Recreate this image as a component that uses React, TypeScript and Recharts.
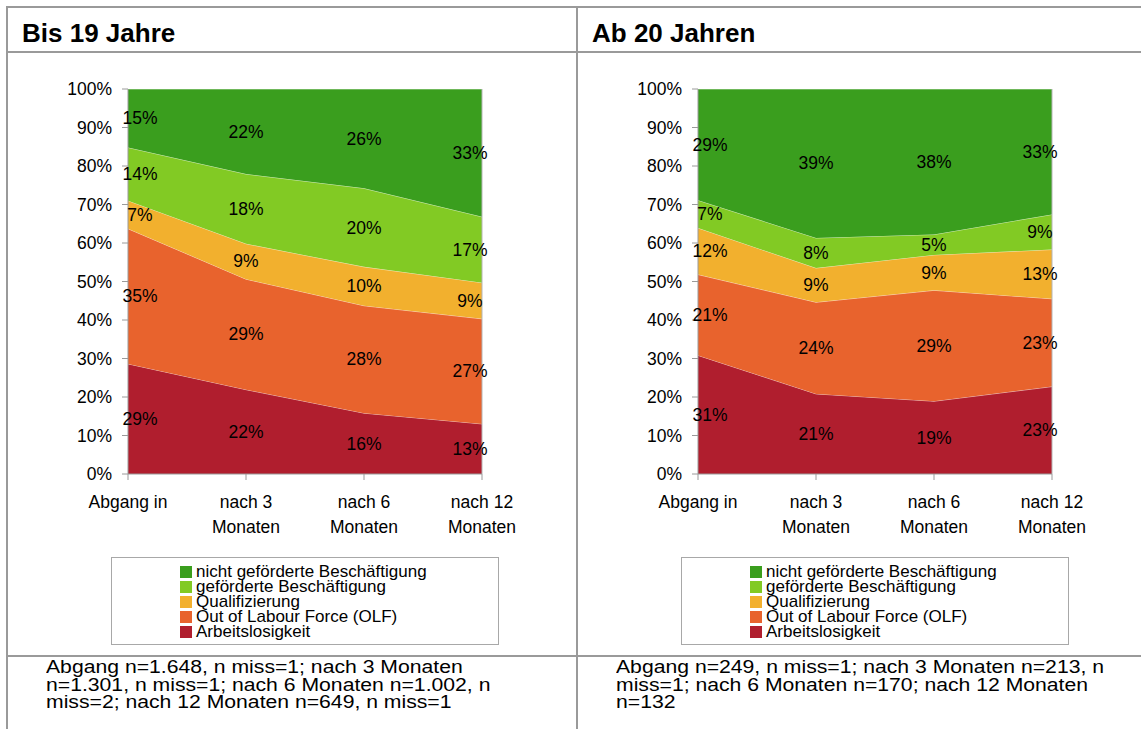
import React from 'react';
import { ComposedChart, Area, Line, XAxis, YAxis, ReferenceLine } from 'recharts';

// categories and tick labels
const categories = ['Abgang in', 'nach 3 Monaten', 'nach 6 Monaten', 'nach 12 Monaten'];
const tickLines: Record<string, string[]> = {
  'Abgang in': ['Abgang in'],
  'nach 3 Monaten': ['nach 3', 'Monaten'],
  'nach 6 Monaten': ['nach 6', 'Monaten'],
  'nach 12 Monaten': ['nach 12', 'Monaten'],
};
const yTicks = [0, 10, 20, 30, 40, 50, 60, 70, 80, 90, 100];

// series, bottom to top
const seriesNames = [
  'Arbeitslosigkeit',
  'Out of Labour Force (OLF)',
  'Qualifizierung',
  'geförderte Beschäftigung',
  'nicht geförderte Beschäftigung',
];
const seriesColors = ['#B01E2E', '#E8632D', '#F2B02E', '#82CA24', '#3A9E1E'];

// Bis 19 Jahre (percent)
const jungArbeitslos = [28.6, 21.9, 15.8, 13.0];
const jungOlf = [35.1, 28.7, 27.9, 27.3];
const jungQuali = [7.3, 9.2, 10.1, 9.4];
const jungGefoerdert = [13.8, 18.1, 20.4, 17.1];
const jungNichtGefoerdert = [15.2, 22.1, 25.8, 33.2];

// Ab 20 Jahren (percent)
const altArbeitslos = [30.8, 20.8, 18.9, 22.7];
const altOlf = [21.0, 23.8, 28.8, 22.8];
const altQuali = [12.1, 8.9, 9.2, 12.8];
const altGefoerdert = [7.2, 7.8, 5.3, 9.1];
const altNichtGefoerdert = [28.9, 38.7, 37.8, 32.6];

const titles = ['Bis 19 Jahre', 'Ab 20 Jahren'];
const notes = [
  ['Abgang n=1.648, n miss=1; nach 3 Monaten', 'n=1.301, n miss=1; nach 6 Monaten n=1.002, n', 'miss=2; nach 12 Monaten n=649, n miss=1'],
  ['Abgang n=249, n miss=1; nach 3 Monaten n=213, n', 'miss=1; nach 6 Monaten n=170; nach 12 Monaten', 'n=132'],
];

const FONT = "'Liberation Sans', Arial, Helvetica, sans-serif";
const GRID = '#9a9a9a';

function buildRows(series: number[][]) {
  return categories.map((cat, i) => {
    const row: Record<string, any> = { cat };
    let acc = 0;
    series.forEach((vals, s) => {
      row['s' + s] = vals[i];
      row['m' + s] = acc + vals[i] / 2;
      acc += vals[i];
    });
    return row;
  });
}

const XTick = (props: any) => {
  const { x, y, payload } = props;
  const lines = tickLines[payload.value] || [payload.value];
  return (
    <text x={x} y={y} textAnchor="middle" fontSize={17.5} fontFamily={FONT} fill="#000">
      {lines.map((l, i) => (
        <tspan key={i} x={x} dy={i === 0 ? 28 : 25}>{l}</tspan>
      ))}
    </text>
  );
};

function StackChart({ series }: { series: number[][] }) {
  const rows = buildRows(series);
  const last = categories.length - 1;
  const makeLabel = (vals: number[]) => (p: any) => {
    const { x, y, index } = p;
    if (x == null || y == null) return null;
    const dx = index === 0 ? 12 : index === last ? -12 : 0;
    return (
      <text key={'l' + index} x={x + dx} y={y} textAnchor="middle" dominantBaseline="central"
        fontSize={17.5} fontFamily={FONT} fill="#000">
        {Math.round(vals[index])}%
      </text>
    );
  };
  return (
    <ComposedChart width={490} height={470} data={rows} margin={{ top: 14, right: 38, bottom: 11, left: 48 }}>
      <XAxis dataKey="cat" scale="point" padding={{ left: 0, right: 0 }} height={60}
        axisLine={{ stroke: GRID }} tickLine={{ stroke: GRID }} tickSize={6} tickMargin={0}
        tick={<XTick />} interval={0} />
      <YAxis domain={[0, 100]} ticks={yTicks} allowDataOverflow width={50}
        tickFormatter={(v) => v + '%'} axisLine={{ stroke: GRID }} tickLine={{ stroke: GRID }}
        tickSize={6} tickMargin={10}
        tick={{ fill: '#000', fontSize: 17.5, fontFamily: FONT }} />
      {series.map((_, s) => (
        <Area key={'a' + s} type="linear" dataKey={'s' + s} stackId="1" fill={seriesColors[s]}
          fillOpacity={1} stroke="rgba(255,255,255,0.55)" strokeWidth={1}
          isAnimationActive={false} />
      ))}
      <ReferenceLine x={categories[last]} stroke="#b5b5b5" strokeWidth={1} />
      {series.map((vals, s) => (
        <Line key={'m' + s} type="linear" dataKey={'m' + s} stroke="none" dot={false}
          activeDot={false} legendType="none" isAnimationActive={false} label={makeLabel(vals)} />
      ))}
    </ComposedChart>
  );
}

function LegendBox() {
  const order = [4, 3, 2, 1, 0];
  return (
    <div style={{ width: 388, height: 88, border: '1px solid #a8a8a8', boxSizing: 'border-box',
      paddingTop: 6, paddingLeft: 68, fontFamily: FONT, fontSize: 17, color: '#000' }}>
      {order.map((s) => (
        <div key={s} style={{ height: 15, lineHeight: '15px', display: 'flex', alignItems: 'center', whiteSpace: 'nowrap' }}>
          <span style={{ display: 'inline-block', width: 12, height: 12, background: seriesColors[s], marginRight: 4 }} />
          <span>{seriesNames[s]}</span>
        </div>
      ))}
    </div>
  );
}

export default function App() {
  const panels = [
    [jungArbeitslos, jungOlf, jungQuali, jungGefoerdert, jungNichtGefoerdert],
    [altArbeitslos, altOlf, altQuali, altGefoerdert, altNichtGefoerdert],
  ];
  const line = (style: React.CSSProperties) => (
    <div style={{ position: 'absolute', background: GRID, ...style }} />
  );
  return (
    <div style={{ position: 'absolute', left: 0, top: 0, width: 1141, height: 729, background: '#fff', overflow: 'hidden', fontFamily: FONT }}>
      {line({ left: 6, top: 6, width: 1200, height: 2 })}
      {line({ left: 6, top: 51, width: 1200, height: 2 })}
      {line({ left: 6, top: 655, width: 1200, height: 2 })}
      {line({ left: 6, top: 6, width: 2, height: 760 })}
      {line({ left: 576, top: 6, width: 2, height: 760 })}
      {panels.map((series, p) => {
        const off = p * 570;
        return (
          <React.Fragment key={p}>
            <div style={{ position: 'absolute', left: 22 + off, top: 20, fontSize: 26, lineHeight: '26px', fontWeight: 'bold', color: '#000' }}>
              {titles[p]}
            </div>
            <div style={{ position: 'absolute', left: 30 + off, top: 75 }}>
              <StackChart series={series} />
            </div>
            <div style={{ position: 'absolute', left: 111 + off, top: 557 }}>
              <LegendBox />
            </div>
            <div style={{ position: 'absolute', left: 46 + off, top: 659, fontSize: 17.5, lineHeight: '17.5px',
              color: '#000', transform: 'scaleX(1.21)', transformOrigin: 'left top', whiteSpace: 'nowrap' }}>
              {notes[p].map((t, i) => <div key={i}>{t}</div>)}
            </div>
          </React.Fragment>
        );
      })}
    </div>
  );
}
